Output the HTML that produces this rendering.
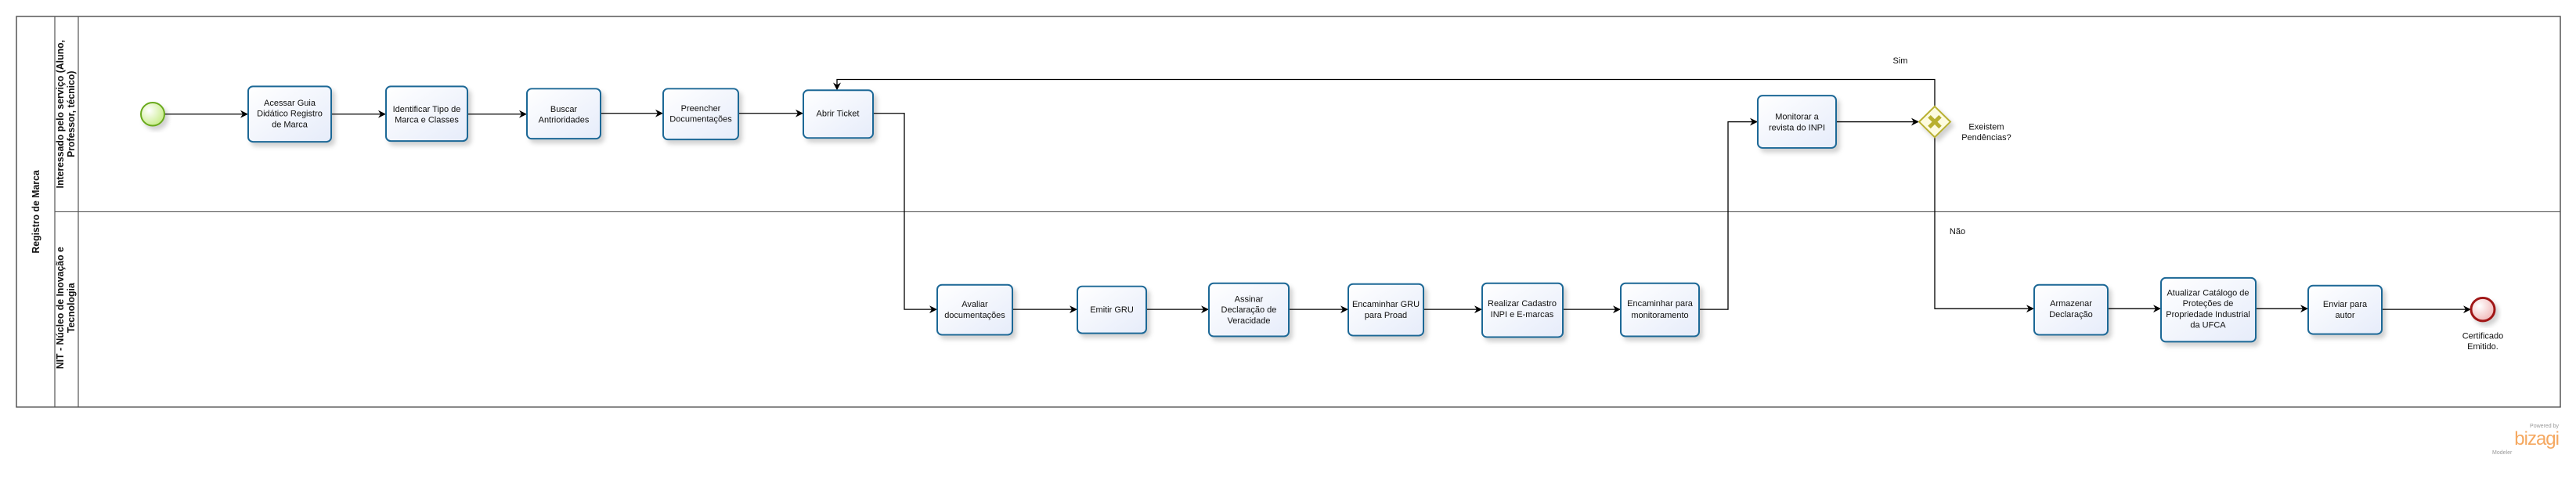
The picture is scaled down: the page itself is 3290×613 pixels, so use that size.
<!DOCTYPE html>
<html><head><meta charset="utf-8"><style>
html,body{margin:0;padding:0;background:#fff;}
svg{display:block;}
text{font-family:"Liberation Sans",sans-serif;}
.t{font-size:11px;fill:#111;text-anchor:middle;}
.h{font-size:12.5px;font-weight:bold;fill:#111;text-anchor:middle;}
</style></head><body>
<svg width="3290" height="613" viewBox="0 0 3290 613" xmlns="http://www.w3.org/2000/svg">
<defs>
<linearGradient id="g" x1="0" y1="0" x2="1" y2="1"><stop offset="0" stop-color="#ffffff"/><stop offset="1" stop-color="#e6ecfa"/></linearGradient>
<radialGradient id="gs" cx="0.35" cy="0.35" r="0.7"><stop offset="0" stop-color="#ffffff"/><stop offset="1" stop-color="#c8ec8a"/></radialGradient>
<radialGradient id="ge" cx="0.35" cy="0.35" r="0.7"><stop offset="0" stop-color="#ffffff"/><stop offset="1" stop-color="#f0b8b8"/></radialGradient>
<filter id="sh" x="-20%" y="-20%" width="150%" height="150%"><feDropShadow dx="4" dy="5" stdDeviation="3" flood-color="#000" flood-opacity="0.18"/></filter>
<marker id="a" markerWidth="10" markerHeight="10" refX="9" refY="5" orient="auto" markerUnits="userSpaceOnUse"><path d="M0,0 L10,5 L0,10 L3,5 z" fill="#000"/></marker>
</defs>
<g transform="translate(0,0.4) scale(1,0.982)">
<!-- pool -->
<rect x="21" y="21" width="3249" height="508" fill="none" stroke="#555" stroke-width="1.5"/>
<line x1="70" y1="21" x2="70" y2="529" stroke="#555" stroke-width="1.2"/>
<line x1="100" y1="21" x2="100" y2="529" stroke="#555" stroke-width="1.2"/>
<line x1="70" y1="275" x2="3270" y2="275" stroke="#555" stroke-width="1.2"/>
<text class="h" transform="translate(50,275) rotate(-90)">Registro de Marca</text>
<text class="h" transform="translate(81,148) rotate(-90)">Interessado pelo serviço (Aluno,</text>
<text class="h" transform="translate(95,148) rotate(-90)">Professor, técnico)</text>
<text class="h" transform="translate(81,400) rotate(-90)">NIT - Núcleo de Inovação e</text>
<text class="h" transform="translate(95,400) rotate(-90)">Tecnologia</text>

<!-- connectors -->
<g fill="none" stroke="#000" stroke-width="1.3" marker-end="url(#a)">
<line x1="210" y1="148" x2="316" y2="148"/>
<line x1="423" y1="148" x2="492" y2="148"/>
<line x1="597" y1="148" x2="672" y2="148"/>
<line x1="767" y1="147" x2="846" y2="147"/>
<line x1="943" y1="147" x2="1025" y2="147"/>
<path d="M1115,147 H1155 V402 H1196"/>
<line x1="1293" y1="402" x2="1375" y2="402"/>
<line x1="1464" y1="402" x2="1543" y2="402"/>
<line x1="1646" y1="402" x2="1721" y2="402"/>
<line x1="1818" y1="402" x2="1892" y2="402"/>
<line x1="1996" y1="402" x2="2069" y2="402"/>
<path d="M2170,402 H2207 V158 H2244"/>
<line x1="2345" y1="158" x2="2450" y2="158"/>
<path d="M2471,138 V103 H1069 V116"/>
<path d="M2471,178 V401 H2597"/>
<line x1="2692" y1="401" x2="2759" y2="401"/>
<line x1="2881" y1="401" x2="2947" y2="401"/>
<line x1="3042" y1="402" x2="3155" y2="402"/>
</g>

<!-- start/end -->
<circle cx="195" cy="148" r="15" fill="url(#gs)" stroke="#6aaa1e" stroke-width="2" filter="url(#sh)"/>
<circle cx="3171" cy="402" r="15" fill="url(#ge)" stroke="#a01818" stroke-width="3" filter="url(#sh)"/>
<text class="t" x="3171" y="440">Certificado</text>
<text class="t" x="3171" y="454">Emitido.</text>

<!-- gateway -->
<g filter="url(#sh)"><path d="M2471,138 L2491,158 L2471,178 L2451,158 z" fill="#fdfbe0" stroke="#b8b030" stroke-width="2"/></g>
<path d="M2464,151 L2478,165 M2478,151 L2464,165" stroke="#b8b030" stroke-width="5"/>
<text class="t" x="2537" y="168">Exeistem</text>
<text class="t" x="2537" y="182">Pendências?</text>
<text class="t" x="2427" y="82">Sim</text>
<text class="t" x="2500" y="304">Não</text>

<!-- tasks -->
<g fill="url(#g)" stroke="#1d6796" stroke-width="2" filter="url(#sh)">
<rect x="317" y="112" width="106" height="72" rx="6"/>
<rect x="493" y="112" width="104" height="71" rx="6"/>
<rect x="673" y="115" width="94" height="65" rx="6"/>
<rect x="847" y="115" width="96" height="66" rx="6"/>
<rect x="1026" y="117" width="89" height="62" rx="6"/>
<rect x="1197" y="370" width="96" height="65" rx="6"/>
<rect x="1376" y="372" width="88" height="61" rx="6"/>
<rect x="1544" y="368" width="102" height="69" rx="6"/>
<rect x="1722" y="369" width="96" height="67" rx="6"/>
<rect x="1893" y="368" width="103" height="70" rx="6"/>
<rect x="2070" y="368" width="100" height="69" rx="6"/>
<rect x="2245" y="124" width="100" height="68" rx="6"/>
<rect x="2598" y="370" width="94" height="65" rx="6"/>
<rect x="2760" y="361" width="121" height="83" rx="6"/>
<rect x="2948" y="371" width="94" height="63" rx="6"/>
</g>
<g class="t">
<text class="t" x="370" y="137">Acessar Guia</text><text class="t" x="370" y="151">Didático Registro</text><text class="t" x="370" y="165">de Marca</text>
<text class="t" x="545" y="145">Identificar Tipo de</text><text class="t" x="545" y="159">Marca e Classes</text>
<text class="t" x="720" y="145">Buscar</text><text class="t" x="720" y="159">Antrioridades</text>
<text class="t" x="895" y="144">Preencher</text><text class="t" x="895" y="158">Documentações</text>
<text class="t" x="1070" y="151">Abrir Ticket</text>
<text class="t" x="1245" y="399">Avaliar</text><text class="t" x="1245" y="413">documentações</text>
<text class="t" x="1420" y="406">Emitir GRU</text>
<text class="t" x="1595" y="392">Assinar</text><text class="t" x="1595" y="406">Declaração de</text><text class="t" x="1595" y="420">Veracidade</text>
<text class="t" x="1770" y="399">Encaminhar GRU</text><text class="t" x="1770" y="413">para Proad</text>
<text class="t" x="1944" y="398">Realizar Cadastro</text><text class="t" x="1944" y="412">INPI e E-marcas</text>
<text class="t" x="2120" y="398">Encaminhar para</text><text class="t" x="2120" y="413">monitoramento</text>
<text class="t" x="2295" y="155">Monitorar a</text><text class="t" x="2295" y="169">revista do INPI</text>
<text class="t" x="2645" y="398">Armazenar</text><text class="t" x="2645" y="412">Declaração</text>
<text class="t" x="2820" y="384">Atualizar Catálogo de</text><text class="t" x="2820" y="398">Proteções de</text><text class="t" x="2820" y="412">Propriedade Industrial</text><text class="t" x="2820" y="426">da UFCA</text>
<text class="t" x="2995" y="399">Enviar para</text><text class="t" x="2995" y="413">autor</text>
</g>
</g>
<!-- logo -->
<text x="3268" y="546" style="font-size:7px;fill:#999;text-anchor:end">Powered by</text>
<text x="3268" y="568" style="font-size:24px;fill:#f5a860;text-anchor:end;letter-spacing:-1px">bizagi</text>
<text x="3183" y="580" style="font-size:7px;fill:#999">Modeler</text>
</svg>
</body></html>
